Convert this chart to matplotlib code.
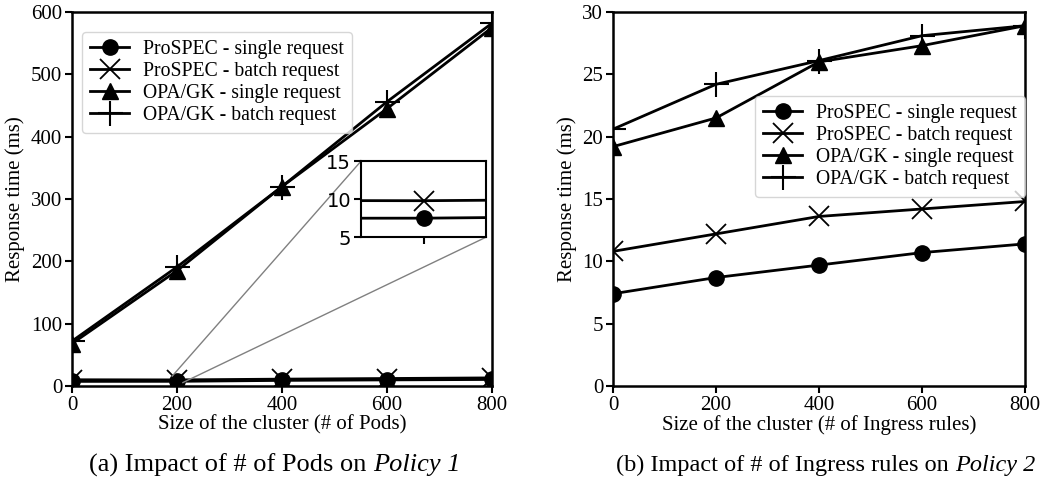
import matplotlib
matplotlib.use("Agg")
import matplotlib.pyplot as plt
from mpl_toolkits.axes_grid1.inset_locator import mark_inset

plt.rcParams['font.family'] = ['Liberation Serif', 'DejaVu Serif']

# --- dados (a): impacto do numero de Pods ---
pods = [0, 200, 400, 600, 800]
a_prospec_single = [7.4, 7.5, 9.0, 9.8, 10.5]
a_prospec_batch = [10.0, 9.8, 11.0, 12.0, 13.0]
a_opa_single = [68, 185, 320, 445, 575]
a_opa_batch = [72, 191, 320, 456, 582]

# --- dados (b): impacto do numero de regras Ingress ---
ingress = [0, 200, 400, 600, 800]
b_prospec_single = [7.4, 8.7, 9.7, 10.7, 11.4]
b_prospec_batch = [10.8, 12.2, 13.6, 14.2, 14.8]
b_opa_single = [19.2, 21.5, 26.0, 27.3, 28.9]
b_opa_batch = [20.6, 24.2, 26.1, 28.1, 28.9]

labels = ["ProSPEC - single request", "ProSPEC - batch request",
          "OPA/GK - single request", "OPA/GK - batch request"]
estilos = [dict(marker='o', markersize=11),
           dict(marker='x', markersize=15, markeredgewidth=1.3),
           dict(marker='^', markersize=11),
           dict(marker='+', markersize=18, markeredgewidth=1.5)]

fig = plt.figure(figsize=(10.52, 4.82), dpi=100)
W, H = 1052, 482
ax1 = fig.add_axes([72 / W, 1 - 386 / H, 420 / W, 374 / H])
ax2 = fig.add_axes([613 / W, 1 - 386 / H, 412 / W, 374 / H])


def desenha(ax, x, series):
    for ys, lab, st in zip(series, labels, estilos):
        ax.plot(x, ys, color='black', linewidth=2, label=lab, **st)


leg_kw = dict(fontsize=14.2, handlelength=2.0, borderaxespad=0.0,
              labelspacing=0.15, handletextpad=0.7)

desenha(ax1, pods, [a_prospec_single, a_prospec_batch, a_opa_single, a_opa_batch])
ax1.set_xlim(0, 800)
ax1.set_ylim(0, 600)
ax1.set_xticks([0, 200, 400, 600, 800])
ax1.set_yticks(range(0, 601, 100))
ax1.set_xlabel("Size of the cluster (# of Pods)", fontsize=15, labelpad=0)
ax1.set_ylabel("Response time (ms)", fontsize=15)
ax1.legend(loc='upper left', bbox_to_anchor=(10 / 420, 1 - 20 / 374), **leg_kw)

# inset (zoom perto de x=200)
axins = ax1.inset_axes([0.688, 0.398, 0.298, 0.203])
for ys, st in zip([a_prospec_single, a_prospec_batch], estilos[:2]):
    axins.plot(pods, ys, color='black', linewidth=2, **st)
axins.set_xlim(190, 210)
axins.set_ylim(5, 15)
axins.set_xticks([200])
axins.set_xticklabels([])
axins.set_yticks([5, 10, 15])
axins.tick_params(labelsize=14, length=5, width=1.5, pad=2)
for lab in axins.get_yticklabels():
    lab.set_family('DejaVu Sans')
for s in axins.spines.values():
    s.set_linewidth(1.5)
mark_inset(ax1, axins, loc1=2, loc2=4, fc="none", ec="0.5", lw=1)

desenha(ax2, ingress, [b_prospec_single, b_prospec_batch, b_opa_single, b_opa_batch])
ax2.set_xlim(0, 800)
ax2.set_ylim(0, 30)
ax2.set_xticks([0, 200, 400, 600, 800])
ax2.set_yticks(range(0, 31, 5))
ax2.set_xlabel("Size of the cluster (# of Ingress rules)", fontsize=15, labelpad=0)
ax2.set_ylabel("Response time (ms)", fontsize=15)
ax2.legend(loc='upper right', bbox_to_anchor=(1.0, 1 - 84 / 374), **leg_kw)

for ax in (ax1, ax2):
    ax.tick_params(labelsize=15, length=5, width=1.5, pad=2)
    for s in ax.spines.values():
        s.set_linewidth(1.8)


# legendas (a) e (b): parte normal + parte em italico
def legenda(xc, y, normal, italico, tam):
    t1 = fig.text(0, y, normal, ha='left', va='center', fontsize=tam)
    t2 = fig.text(0, y, italico, ha='left', va='center', fontsize=tam, style='italic')
    r = fig.canvas.get_renderer()
    w1 = t1.get_window_extent(r).width
    w2 = t2.get_window_extent(r).width
    x0 = xc - (w1 + w2) / 2
    t1.set_x(x0 / W)
    t2.set_x((x0 + w1) / W)


legenda(275, 1 - 465 / H, "(a) Impact of # of Pods on ", "Policy 1", 19)
legenda(826, 1 - 465 / H, "(b) Impact of # of Ingress rules on ", "Policy 2", 17.5)

fig.savefig("out.png", dpi=100)
